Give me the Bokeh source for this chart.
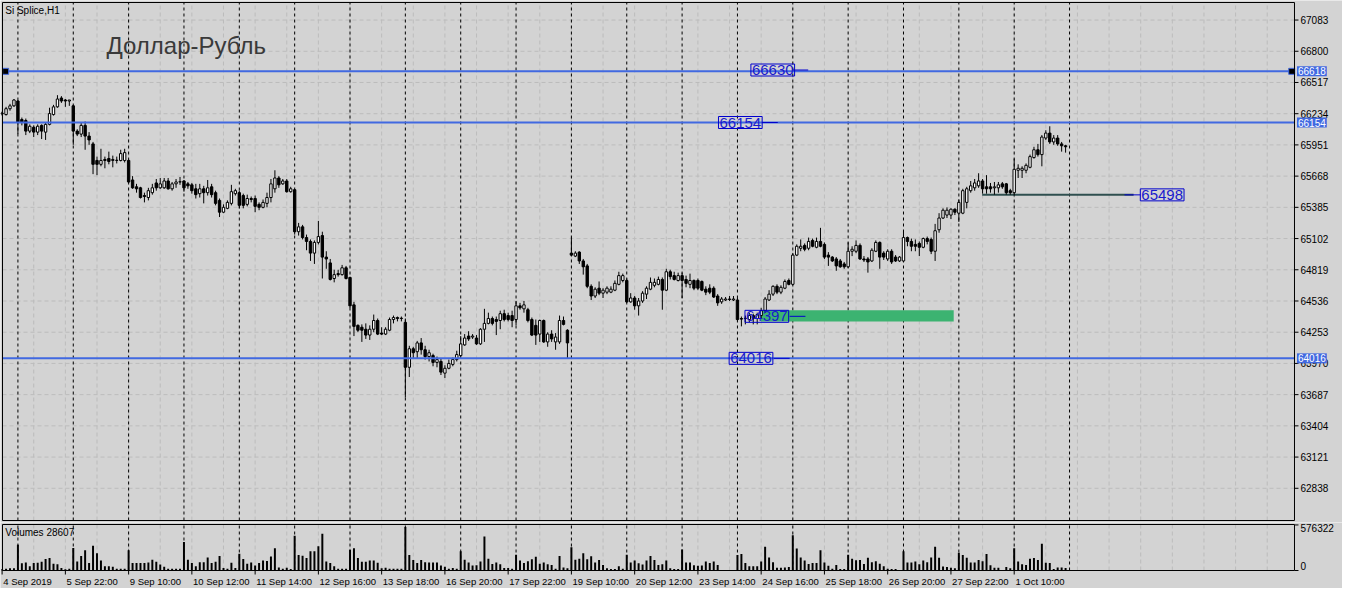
from bokeh.plotting import figure
from bokeh.models import Range1d, Label, ColumnDataSource
from bokeh.layouts import column
from bokeh.embed import file_html
from bokeh.resources import INLINE
from bokeh.core.properties import value

# ---------------- data (Si Splice, H1) ----------------
opens = [66232, 66226, 66279, 66305, 66349, 66181, 66172, 66076, 66111, 66067,
         66128, 66067, 66137, 66226, 66296, 66376, 66358, 66349, 66305, 66076,
         66049, 66128, 66031, 65960, 65810, 65775, 65819, 65828, 65810, 65810,
         65810, 65810, 65810, 65633, 65571, 65562, 65492, 65474, 65518, 65606,
         65562, 65562, 65624, 65553, 65598, 65615, 65624, 65598, 65589, 65553,
         65509, 65553, 65518, 65571, 65518, 65448, 65341, 65376, 65421, 65509,
         65518, 65492, 65412, 65465, 65465, 65412, 65385, 65421, 65474, 65553,
         65651, 65598, 65624, 65527, 65545, 65164, 65208, 65111, 65076, 64970,
         65067, 65129, 64934, 64881, 64740, 64784, 64775, 64837, 64749, 64501,
         64315, 64298, 64280, 64227, 64280, 64359, 64245, 64236, 64271, 64368,
         64386, 64377, 64342, 63935, 64103, 64076, 64156, 64094, 64032, 64041,
         63979, 63988, 63882, 63926, 63961, 64005, 64041, 64138, 64218, 64209,
         64200, 64147, 64280, 64333, 64377, 64368, 64359, 64421, 64404, 64404,
         64368, 64492, 64465, 64457, 64368, 64315, 64236, 64359, 64165, 64236,
         64165, 64165, 64359, 64271, 64970, 64943, 64979, 64899, 64854, 64669,
         64581, 64652, 64607, 64616, 64616, 64634, 64687, 64722, 64722, 64528,
         64563, 64492, 64536, 64598, 64643, 64678, 64687, 64731, 64634, 64801,
         64766, 64722, 64766, 64731, 64687, 64722, 64722, 64713, 64643, 64652,
         64652, 64581, 64528, 64545, 64554, 64545, 64545, 64377, 64377, 64368,
         64404, 64377, 64404, 64448, 64545, 64598, 64669, 64616, 64652, 64722,
         64687, 64952, 65014, 65040, 65014, 65085, 65023, 65076, 65049, 64952,
         64934, 64917, 64899, 64872, 64846, 64987, 64987, 65040, 64917, 64917,
         64899, 64987, 65067, 64970, 64917, 64987, 64934, 64899, 64899, 65111,
         65076, 65049, 65058, 65023, 65102, 65094, 64987, 65182, 65288, 65315,
         65315, 65368, 65332, 65332, 65430, 65536, 65562, 65580, 65624, 65571,
         65571, 65562, 65562, 65598, 65598, 65536, 65518, 65721, 65721, 65721,
         65748, 65836, 65907, 65863, 66013, 66058, 65978, 66013, 65960, 65943]

highs = [66253, 66296, 66323, 66367, 66358, 66199, 66190, 66137, 66128, 66137,
         66137, 66155, 66288, 66314, 66402, 66393, 66367, 66358, 66314, 66093,
         66155, 66163, 66067, 65978, 65845, 65916, 65845, 65890, 65854, 65845,
         65907, 65916, 65819, 65668, 65598, 65571, 65518, 65562, 65598, 65642,
         65651, 65651, 65651, 65615, 65642, 65660, 65633, 65615, 65606, 65598,
         65598, 65580, 65633, 65598, 65536, 65465, 65412, 65448, 65589, 65553,
         65536, 65509, 65500, 65483, 65492, 65430, 65456, 65518, 65642, 65721,
         65668, 65642, 65642, 65571, 65553, 65244, 65226, 65138, 65094, 65085,
         65262, 65164, 64987, 64917, 64819, 64819, 64863, 64854, 64757, 64528,
         64324, 64324, 64333, 64315, 64413, 64377, 64298, 64298, 64386, 64404,
         64395, 64395, 64377, 64130, 64121, 64174, 64200, 64130, 64094, 64058,
         64032, 64014, 63953, 64005, 64023, 64085, 64218, 64236, 64262, 64236,
         64227, 64289, 64465, 64430, 64395, 64395, 64448, 64457, 64430, 64448,
         64536, 64519, 64536, 64474, 64386, 64368, 64368, 64368, 64253, 64271,
         64245, 64404, 64395, 64280, 65111, 64987, 64987, 64917, 64872, 64687,
         64660, 64713, 64652, 64669, 64669, 64722, 64801, 64784, 64740, 64607,
         64581, 64563, 64625, 64669, 64749, 64740, 64757, 64749, 64828, 64819,
         64801, 64793, 64793, 64766, 64784, 64731, 64740, 64722, 64669, 64687,
         64669, 64598, 64572, 64572, 64581, 64581, 64563, 64395, 64404, 64430,
         64421, 64430, 64474, 64572, 64634, 64678, 64687, 64678, 64731, 64740,
         64970, 65049, 65094, 65058, 65111, 65102, 65111, 65199, 65067, 64979,
         64943, 64934, 64917, 64890, 65067, 65032, 65085, 65058, 64943, 64934,
         65014, 65085, 65076, 64987, 65005, 65005, 64952, 64943, 65173, 65120,
         65102, 65094, 65076, 65111, 65120, 65111, 65235, 65332, 65376, 65385,
         65376, 65376, 65456, 65553, 65571, 65624, 65642, 65694, 65642, 65677,
         65606, 65615, 65615, 65615, 65606, 65553, 65827, 65775, 65757, 65783,
         65863, 65934, 65960, 66040, 66084, 66120, 66040, 66040, 65978, 65952]

lows = [66217, 66217, 66261, 66296, 66049, 66128, 66040, 66058, 66022, 66040,
        66004, 65996, 66128, 66217, 66288, 66332, 66296, 66305, 65952, 66031,
        66022, 65907, 65952, 65686, 65677, 65757, 65739, 65775, 65748, 65783,
        65801, 65792, 65606, 65553, 65518, 65465, 65430, 65448, 65500, 65536,
        65553, 65553, 65545, 65536, 65562, 65589, 65527, 65553, 65509, 65465,
        65474, 65421, 65492, 65474, 65403, 65297, 65332, 65368, 65403, 65492,
        65376, 65376, 65394, 65430, 65341, 65359, 65376, 65385, 65430, 65518,
        65562, 65589, 65518, 65518, 65138, 65129, 65094, 64996, 64899, 64872,
        65049, 64740, 64828, 64722, 64705, 64757, 64766, 64731, 64474, 64218,
        64253, 64165, 64192, 64183, 64253, 64227, 64227, 64227, 64262, 64333,
        64351, 64351, 63661, 63847, 64014, 64014, 64050, 64005, 63988, 63944,
        63935, 63865, 63838, 63917, 63944, 63988, 64032, 64130, 64174, 64192,
        64138, 64138, 64165, 64324, 64315, 64227, 64280, 64351, 64351, 64298,
        64315, 64457, 64430, 64342, 64218, 64138, 64165, 64156, 64121, 64165,
        64094, 64147, 64315, 64014, 64943, 64934, 64872, 64775, 64652, 64545,
        64563, 64589, 64563, 64598, 64607, 64625, 64678, 64705, 64519, 64520,
        64457, 64404, 64519, 64554, 64634, 64660, 64678, 64457, 64625, 64731,
        64722, 64713, 64563, 64660, 64652, 64634, 64634, 64625, 64589, 64598,
        64563, 64492, 64510, 64536, 64536, 64536, 64359, 64306, 64324, 64342,
        64324, 64324, 64377, 64430, 64536, 64581, 64598, 64598, 64643, 64678,
        64678, 64943, 64987, 64987, 64996, 65023, 65014, 65023, 64917, 64854,
        64890, 64810, 64837, 64828, 64837, 64943, 64970, 64908, 64890, 64793,
        64890, 64979, 64828, 64908, 64899, 64872, 64890, 64890, 64890, 65032,
        64987, 64987, 64943, 65014, 65049, 64961, 64899, 65155, 65279, 65288,
        65279, 65315, 65253, 65323, 65376, 65518, 65536, 65562, 65509, 65509,
        65518, 65500, 65518, 65553, 65500, 65500, 65492, 65651, 65651, 65694,
        65739, 65827, 65845, 65757, 65996, 65960, 65952, 65943, 65890, 65881]

closes = [66240, 66279, 66305, 66358, 66155, 66155, 66076, 66120, 66067, 66120,
          66076, 66137, 66235, 66296, 66367, 66349, 66349, 66358, 66076, 66049,
          66128, 66031, 65996, 65775, 65775, 65810, 65810, 65801, 65819, 65812,
          65872, 65881, 65615, 65562, 65553, 65474, 65483, 65536, 65562, 65562,
          65598, 65624, 65553, 65598, 65615, 65617, 65562, 65580, 65536, 65500,
          65553, 65518, 65562, 65500, 65421, 65341, 65385, 65430, 65527, 65536,
          65403, 65403, 65465, 65456, 65394, 65385, 65430, 65474, 65598, 65651,
          65589, 65624, 65527, 65553, 65164, 65208, 65111, 65076, 64970, 65067,
          65120, 64934, 64917, 64731, 64775, 64775, 64837, 64740, 64492, 64306,
          64271, 64271, 64227, 64280, 64359, 64236, 64236, 64280, 64368, 64386,
          64377, 64380, 63935, 64103, 64067, 64156, 64094, 64032, 64067, 63979,
          64005, 63891, 63926, 63970, 64005, 64050, 64147, 64200, 64192, 64218,
          64147, 64280, 64333, 64377, 64333, 64351, 64421, 64368, 64368, 64359,
          64492, 64474, 64501, 64359, 64227, 64227, 64359, 64165, 64236, 64192,
          64209, 64359, 64324, 64156, 64952, 64970, 64899, 64846, 64669, 64581,
          64643, 64607, 64634, 64652, 64643, 64696, 64766, 64766, 64528, 64563,
          64492, 64536, 64607, 64652, 64705, 64705, 64731, 64634, 64801, 64757,
          64731, 64766, 64722, 64696, 64722, 64652, 64652, 64634, 64616, 64616,
          64572, 64519, 64554, 64554, 64550, 64554, 64368, 64372, 64380, 64404,
          64377, 64413, 64448, 64554, 64598, 64669, 64616, 64660, 64713, 64687,
          64952, 65032, 65032, 65005, 65076, 65032, 65076, 65032, 64934, 64934,
          64899, 64854, 64846, 64846, 64987, 65005, 65040, 64917, 64908, 64890,
          64996, 65067, 64934, 64934, 64987, 64890, 64899, 64934, 65111, 65076,
          65032, 65032, 65023, 65102, 65076, 64987, 65173, 65288, 65359, 65359,
          65368, 65341, 65430, 65536, 65553, 65580, 65606, 65624, 65553, 65553,
          65553, 65571, 65589, 65571, 65518, 65518, 65730, 65739, 65739, 65766,
          65845, 65907, 65863, 66022, 66058, 65978, 66013, 65960, 65943, 65934]

volumes = [15700, 23500, 27400, 27400, 325400, 90200, 101900, 54900, 94100, 98000,
           109800, 145000, 156800, 86200, 78400, 31400, 15700, 23500, 286200, 113700,
           184200, 254800, 94100, 313600, 219500, 125400, 54900, 54900, 47000, 23500,
           23500, 23500, 254800, 94100, 94100, 94100, 94100, 101900, 137200, 109800,
           74500, 47000, 23500, 23500, 23500, 23500, 360600, 137200, 94100, 54900,
           105800, 105800, 164600, 94100, 109800, 184200, 31400, 23500, 98000, 31400,
           211700, 145000, 86200, 101900, 62700, 94100, 125400, 121500, 176400, 282200,
           39200, 23500, 35300, 19600, 439000, 196000, 188200, 156800, 243000, 243000,
           305800, 466500, 113700, 94100, 54900, 23500, 23500, 23500, 262600, 282200,
           156800, 109800, 109800, 125400, 125400, 98000, 27400, 35300, 23500, 23500,
           23500, 23500, 548800, 196000, 133300, 94100, 133300, 105800, 101900, 101900,
           101900, 62700, 47000, 23500, 31400, 23500, 243000, 137200, 101900, 62700,
           66600, 113700, 431200, 149000, 82300, 101900, 78400, 31400, 31400, 23500,
           199900, 125400, 94100, 117600, 141100, 172500, 86200, 101900, 78400, 70600,
           23500, 184200, 39200, 27400, 294000, 137200, 149000, 219500, 141100, 180300,
           101900, 133300, 70600, 27400, 19600, 19600, 54900, 23500, 199900, 101900,
           125400, 90200, 74500, 125400, 184200, 133300, 70600, 78400, 125400, 27400,
           19600, 19600, 266600, 101900, 101900, 66600, 58800, 62700, 113700, 94100,
           113700, 70600, 7800, 7800, 7800, 7800, 196000, 207800, 94100, 54900,
           54900, 54900, 113700, 301800, 164600, 105800, 35300, 35300, 39200, 43100,
           446900, 278300, 164600, 125400, 82300, 94100, 94100, 254800, 101900, 58800,
           23500, 70600, 19600, 19600, 199900, 149000, 129400, 133300, 82300, 160700,
           105800, 117600, 86200, 54900, 23500, 19600, 19600, 7800, 243000, 101900,
           101900, 113700, 78400, 125400, 105800, 164600, 301800, 160700, 51000, 43100,
           35300, 27400, 223400, 196000, 160700, 101900, 101900, 133300, 117600, 207800,
           66600, 35300, 35300, 7800, 43100, 27400, 282200, 113700, 78400, 70600,
           149000, 156800, 133300, 337100, 98000, 94100, 19600, 39200, 39200, 31400]

time_labels = ["4 Sep 2019", "5 Sep 22:00", "9 Sep 10:00", "10 Sep 12:00", "11 Sep 14:00",
               "12 Sep 16:00", "13 Sep 18:00", "16 Sep 20:00", "17 Sep 22:00", "19 Sep 10:00",
               "20 Sep 12:00", "23 Sep 14:00", "24 Sep 16:00", "25 Sep 18:00", "26 Sep 20:00",
               "27 Sep 22:00", "1 Oct 10:00"]

price_ticks = [62838, 63121, 63404, 63687, 63970, 64253, 64536, 64819,
               65102, 65385, 65668, 65951, 66234, 66517, 66800, 67083]

hlines = [66618, 66154, 64016]
level_texts = ["66630", "66154", "64016", "64397", "65498"]
level_values = [66630, 66154, 64016, 64397, 65498]
support_level = 65498
zone_low, zone_high = 64350, 64452
volume_max = 576322
volume_total = 28607

# ---------------- geometry / style ----------------
BG = "#d3d3d3"
GRID = "#bcbcbc"
FONT = "Liberation Sans"
W = 1342
KPX = 3.953                      # pixels per bar
CL, CR = 0.1, 326.9              # chart frame left / right (bar units)
XL = CL - 2 / KPX
XR = CR + 48 / KPX
PB, PT = 62546, 67242            # price frame bottom / top
PPX = (PT - PB) / 518.0
VMAX = 582000
VPX = VMAX / 46.0
BARS_PER_DAY = 14
BARS_PER_LABEL = 16

n = len(opens)
xs = list(range(n))
src = ColumnDataSource(dict(
    x=xs, h=highs, l=lows,
    top=[max(o, c) for o, c in zip(opens, closes)],
    bot=[min(o, c) for o, c in zip(opens, closes)],
    fill=["white" if c >= o else "black" for o, c in zip(opens, closes)],
))

sep_pos = [4 + BARS_PER_DAY * k for k in range(20)]
vgrid_pos = [8 * k for k in range(1, 41) if 8 * k < CR]
label_pos = [BARS_PER_LABEL * k for k in range(len(time_labels))]


def make_fig(h, yr):
    f = figure(width=W, height=h, x_range=Range1d(XL, XR), y_range=yr,
               x_axis_location=None, y_axis_location=None,
               output_backend="svg", toolbar_location=None,
               min_border_left=0, min_border_right=0, min_border_top=0, min_border_bottom=0,
               background_fill_color=BG, border_fill_color=BG, outline_line_color=None)
    f.xgrid.visible = False
    f.ygrid.visible = False
    return f


# ---------------- price panel ----------------
p1 = make_fig(522, Range1d(PB - 2 * PPX, PT + 2 * PPX))

# grid
p1.segment(x0=[CL] * len(price_ticks), y0=price_ticks, x1=[CR] * len(price_ticks), y1=price_ticks,
           line_color=GRID, line_dash="4 3", line_width=1)
p1.segment(x0=vgrid_pos, y0=[PB] * len(vgrid_pos), x1=vgrid_pos, y1=[PT] * len(vgrid_pos),
           line_color=GRID, line_dash="4 3", line_width=1)
p1.segment(x0=sep_pos, y0=[PB] * len(sep_pos), x1=sep_pos, y1=[PT] * len(sep_pos),
           line_color="black", line_dash="3 3", line_width=1)

# green zone
p1.quad(left=[191.9], right=[240.7], bottom=[zone_low], top=[zone_high],
        fill_color="#3cb371", line_color=None)

# support line
p1.segment(x0=[247.9], y0=[support_level], x1=[286.2], y1=[support_level],
           line_color="#2f4f4f", line_width=2)

# candles
p1.segment(x0="x", y0="l", x1="x", y1="h", source=src, line_color="black", line_width=1)
p1.vbar(x="x", width=0.6, top="top", bottom="bot", source=src,
        fill_color="fill", line_color="black", line_width=1)

# horizontal lines
p1.segment(x0=[CL] * len(hlines), y0=hlines, x1=[CR] * len(hlines), y1=hlines,
           line_color="#4169e1", line_width=2)
p1.scatter(x=[0.9, 326.2], y=[hlines[0], hlines[0]], marker="square", size=6,
           fill_color="black", line_color="#4169e1", line_width=1)

# level text boxes with short leader lines
box_x = [189.4, 181.2, 183.9, 187.9, 287.9]
lead_x0 = [199.9, 192.2, 195.2, 199.2, 283.9]
lead_x1 = [203.9, 196.2, 199.2, 203.2, 287.9]
p1.segment(x0=lead_x0, y0=level_values, x1=lead_x1, y1=level_values,
           line_color="#0000cd", line_width=1)
for t, v, bx in zip(level_texts, level_values, box_x):
    p1.add_layout(Label(x=bx, y=v, text=t, text_font=FONT, text_font_size="15px",
                        text_color="#1a1acd", text_align="left", text_baseline="middle",
                        border_line_color="#0000cd", border_line_width=1, padding=1))

# frame border
p1.quad(left=[CL], right=[CR], bottom=[PB], top=[PT], fill_color=None,
        line_color="black", line_width=1)

# price scale (right)
p1.segment(x0=[CR] * len(price_ticks), y0=price_ticks, x1=[CR + 4 / KPX] * len(price_ticks),
           y1=price_ticks, line_color="black", line_width=1)
p1.text(x=[CR + 6 / KPX] * len(price_ticks), y=price_ticks, text=[str(t) for t in price_ticks],
        text_font=value(FONT), text_font_size=value("10px"), text_color="black",
        text_align="left", text_baseline="middle")
for v in hlines:
    p1.add_layout(Label(x=CR + 2.5 / KPX, y=v, text=str(v), text_font=FONT, text_font_size="10px",
                        text_color="white", background_fill_color="#4169e1",
                        text_align="left", text_baseline="middle", padding=1))

# titles
p1.add_layout(Label(x=0.8, y=PT - 8 * PPX, text="Si Splice,H1", text_font=FONT,
                    text_font_size="10px", text_color="black",
                    text_align="left", text_baseline="middle"))
p1.add_layout(Label(x=26.4, y=PT - 43 * PPX, text="Доллар-Рубль", text_font=FONT,
                    text_font_size="24px", text_color="#3a3a3a",
                    text_align="left", text_baseline="middle"))

# ---------------- volume panel ----------------
p2 = make_fig(66, Range1d(-18 * VPX, VMAX + 2 * VPX))

p2.segment(x0=vgrid_pos, y0=[0] * len(vgrid_pos), x1=vgrid_pos, y1=[VMAX] * len(vgrid_pos),
           line_color=GRID, line_dash="4 3", line_width=1)
p2.segment(x0=sep_pos, y0=[0] * len(sep_pos), x1=sep_pos, y1=[VMAX] * len(sep_pos),
           line_color="black", line_dash="3 3", line_width=1)

vsrc = ColumnDataSource(dict(x=xs, v=volumes))
p2.vbar(x="x", top="v", bottom=0, width=0.5, source=vsrc, fill_color="black", line_color=None)

p2.quad(left=[CL], right=[CR], bottom=[0], top=[VMAX], fill_color=None,
        line_color="black", line_width=1)

# time scale (bottom)
p2.segment(x0=label_pos, y0=[0] * len(label_pos), x1=label_pos, y1=[-4 * VPX] * len(label_pos),
           line_color="black", line_width=1)
p2.text(x=[pos + 0.3 for pos in label_pos], y=[-5 * VPX] * len(label_pos), text=time_labels,
        text_font=value(FONT), text_font_size=value("9.5px"), text_color="black",
        text_align="left", text_baseline="top")

# volume scale (right)
p2.segment(x0=[CR, CR], y0=[0, volume_max], x1=[CR + 4 / KPX] * 2, y1=[0, volume_max],
           line_color="black", line_width=1)
p2.text(x=[CR + 6 / KPX], y=[volume_max + 1 * VPX], text=[str(volume_max)],
        text_font=value(FONT), text_font_size=value("10px"), text_color="black",
        text_align="left", text_baseline="top")
p2.text(x=[CR + 6 / KPX], y=[1 * VPX], text=["0"],
        text_font=value(FONT), text_font_size=value("10px"), text_color="black",
        text_align="left", text_baseline="bottom")
p2.add_layout(Label(x=0.8, y=VMAX - 8 * VPX, text="Volumes %d" % volume_total,
                    text_font=FONT, text_font_size="10px", text_color="black",
                    text_align="left", text_baseline="middle"))

layout = column(p1, p2)
open("out.html", "w").write(file_html(layout, INLINE, "Si Splice,H1"))
